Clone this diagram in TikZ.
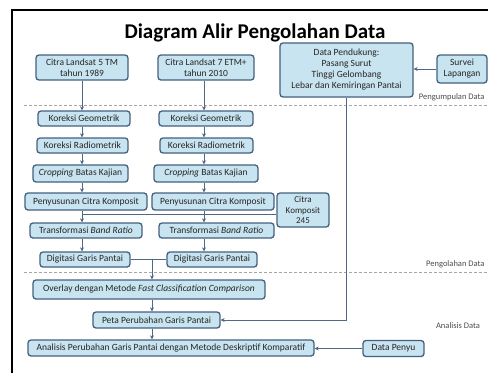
\documentclass[tikz,border=0pt]{standalone}
\usepackage{fontspec}
\setmainfont{Carlito}
\usepackage{xcolor}
\usetikzlibrary{arrows.meta,positioning}

\definecolor{boxfill}{RGB}{200,228,240}
\definecolor{boxline}{RGB}{68,96,126}
\definecolor{flowline}{RGB}{78,104,134}

\begin{document}
\begin{tikzpicture}[
  x=1pt,
  y=-1pt,
  every node/.style={font=\fontsize{9.5}{11}\selectfont, text=black!85},
  proc/.style={draw=boxline, fill=boxfill, line width=1.3pt, rounded corners=3pt, minimum height=15pt, inner sep=1pt, align=center},
  flow/.style={draw=flowline, line width=0.9pt, -{Stealth[length=4pt,width=4pt]}},
  link/.style={draw=flowline, line width=0.9pt},
  sep/.style={draw=gray!70, line width=0.8pt, dash pattern=on 3pt off 2pt},
  phase/.style={font=\fontsize{8.5}{10}\selectfont, text=black!70},
]
\useasboundingbox (0,0) rectangle (488,373);

% Frame and title.
\draw[line width=2pt] (12,373) -- (12,10) -- (488,10);
\node[font=\bfseries\fontsize{21}{24}\selectfont, text=black] (title) at (255,33) {Diagram Alir Pengolahan Data};

% Column x positions for the arrows, and the composite band bus.
\coordinate (c1) at (82,0);
\coordinate (c2) at (204,0);
\coordinate (cm) at (152,0);
\coordinate (bus) at (0,214);

% Input data.
\node[proc, minimum width=92pt, minimum height=25pt] (ls5) at (82,67.5) {Citra Landsat 5 TM\\tahun 1989};
\node[proc, minimum width=96pt, minimum height=25pt] (ls7) at (206,67.5) {Citra Landsat 7 ETM+\\tahun 2010};
\node[proc, minimum width=133pt, minimum height=54pt] (dukung) at (346.5,70) {Data Pendukung:\\Pasang Surut\\Tinggi Gelombang\\Lebar dan Kemiringan Pantai};
\node[proc, minimum width=50pt, minimum height=28pt] (survei) at (462,69) {Survei\\Lapangan};

% Stage separators.
\draw[sep] (24,105) -- (488,105);
\node[phase, anchor=east] (lblkumpul) at (488,97) {Pengumpulan Data};
\draw[sep] (24,272) -- (488,272);
\node[phase, anchor=east] (lblolah) at (488,264) {Pengolahan Data};
\node[phase] (lblanalisis) at (458,326) {Analisis Data};

% Processing, Landsat 5.
\node[proc, minimum width=92pt] (geo1) at (84,118.5) {Koreksi Geometrik};
\node[proc, minimum width=91pt] (rad1) at (82.5,145.5) {Koreksi Radiometrik};
\node[proc, minimum width=95pt, minimum height=17pt] (crop1) at (80.5,173.5) {\textit{Cropping} Batas Kajian};
\node[proc, minimum width=122pt, minimum height=17pt] (komp1) at (86,201.5) {Penyusunan Citra Komposit};
\node[proc, minimum width=112pt] (band1) at (86,230.5) {Transformasi \textit{Band Ratio}};
\node[proc, minimum width=90pt] (digi1) at (85,259.5) {Digitasi Garis Pantai};

% Processing, Landsat 7.
\node[proc, minimum width=94pt] (geo2) at (206,118.5) {Koreksi Geometrik};
\node[proc, minimum width=93pt] (rad2) at (206.5,145.5) {Koreksi Radiometrik};
\node[proc, minimum width=104pt, minimum height=17pt] (crop2) at (206,173.5) {\textit{Cropping} Batas Kajian};
\node[proc, minimum width=122pt, minimum height=17pt] (komp2) at (213,201.5) {Penyusunan Citra Komposit};
\node[proc, minimum width=115pt] (band2) at (216.5,230.5) {Transformasi \textit{Band Ratio}};
\node[proc, minimum width=90pt] (digi2) at (212,259.5) {Digitasi Garis Pantai};
\node[proc, minimum width=52pt, minimum height=34pt, font=\fontsize{9}{10.5}\selectfont] (rgb) at (303,210) {Citra\\Komposit\\245};

% Analysis.
\node[proc, minimum width=232pt, minimum height=19pt] (overlay) at (149,289.5) {Overlay dengan Metode \textit{Fast Classification Comparison}};
\node[proc, minimum width=127pt, minimum height=16pt] (peta) at (156.5,320) {Peta Perubahan Garis Pantai};
\node[proc, minimum width=286pt, minimum height=16pt] (analisis) at (171,348) {Analisis Perubahan Garis Pantai dengan Metode Deskriptif Komparatif};
\node[proc, minimum width=61pt, minimum height=16pt] (penyu) at (393.5,348.5) {Data Penyu};

% Arrows, column 1.
\draw[flow] (ls5.south -| c1) -- (geo1.north -| c1);
\draw[flow] (geo1.south -| c1) -- (rad1.north -| c1);
\draw[flow] (rad1.south -| c1) -- (crop1.north -| c1);
\draw[flow] (crop1.south -| c1) -- (komp1.north -| c1);
\draw[link] (komp1.south -| c1) -- (c1 |- bus) coordinate (j1);
\draw[flow] (j1) -- (band1.north -| c1);
\draw[flow] (band1.south -| c1) -- (digi1.north -| c1);

% Arrows, column 2.
\draw[flow] (ls7.south -| c2) -- (geo2.north -| c2);
\draw[flow] (geo2.south -| c2) -- (rad2.north -| c2);
\draw[flow] (rad2.south -| c2) -- (crop2.north -| c2);
\draw[flow] (crop2.south -| c2) -- (komp2.north -| c2);
\draw[link] (komp2.south -| c2) -- (c2 |- bus) coordinate (j2);
\draw[flow] (j2) -- (band2.north -| c2);
\draw[flow] (band2.south -| c2) -- (digi2.north -| c2);

% Composite band link.
\draw[link] (j1) -- (rgb.west |- bus);

% Merge of both shorelines.
\draw[link] (digi1.east) -- (digi2.west);
\draw[flow] (cm |- digi1.east) -- (overlay.north -| cm);
\draw[flow] (overlay.south -| cm) -- (peta.north -| cm);
\draw[flow] (peta.south -| cm) -- (analisis.north -| cm);

% Supporting data.
\draw[flow] (survei.west) -- (dukung.east |- survei.west);
\draw[flow] (dukung.south) |- (peta.east);
\draw[flow] (penyu.west) -- (analisis.east |- penyu.west);

\end{tikzpicture}
\end{document}
